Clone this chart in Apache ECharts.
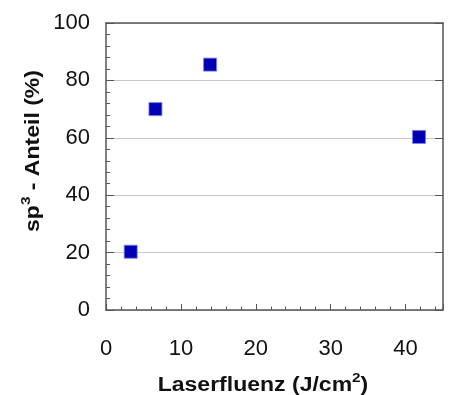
<!DOCTYPE html>
<html><head><meta charset="utf-8">
<script src="https://cdn.jsdelivr.net/npm/echarts@6/dist/echarts.min.js"></script>
<style>html,body{margin:0;padding:0;background:#fff}#c{width:452px;height:395px}</style>
</head><body><div id="c"></div>
<script>
const fluence = [3.3, 6.6, 13.9, 41.8];
const sp3 = [20.3, 70.0, 85.5, 60.3];
const xTicks = [0, 10, 20, 30, 40];
const yTicks = [0, 20, 40, 60, 80, 100];
const xTitle = ['Laserfluenz (J/cm', '2', ')'];
const yTitle = ['sp', '3', ' - Anteil (%)'];

const chart = echarts.init(document.getElementById('c'));
const font = 'Liberation Sans, Arial, sans-serif';
const axisCol = '#555';
const titleRich = {
  b: {fontSize: 19.5, fontWeight: 'bold', fill: '#111', color: '#111', fontFamily: font, lineHeight: 24, verticalAlign: 'bottom'},
  s: {fontSize: 13, fontWeight: 'bold', fill: '#111', color: '#111', fontFamily: font, lineHeight: 24, verticalAlign: 'top', padding: [0, 0, 9, 0]}
};
const richText = t => '{b|' + t[0] + '}{s|' + t[1] + '}{b|' + t[2] + '}';
chart.setOption({
  animation: false,
  grid: {left: 106, top: 23, right: 9, bottom: 85},
  xAxis: [{
    type: 'value', min: xTicks[0], max: 45, interval: 10,
    axisLine: {show: true, lineStyle: {color: axisCol, width: 1.5}},
    axisTick: {show: true, inside: true, length: 6, lineStyle: {color: axisCol}},
    minorTick: {show: true, splitNumber: 5, length: 3.5, lineStyle: {color: axisCol}},
    splitLine: {show: false},
    axisLabel: {margin: 28, fontSize: 22, color: '#111', fontFamily: font,
      formatter: v => xTicks.includes(v) ? String(v) : ''}
  }, {
    type: 'value', position: 'top', min: 0, max: 45,
    axisLine: {show: true, onZero: false, lineStyle: {color: axisCol, width: 1.5}},
    axisTick: {show: false}, axisLabel: {show: false}, splitLine: {show: false}
  }],
  yAxis: [{
    type: 'value', min: yTicks[0], max: 100, interval: 20,
    axisLine: {show: true, lineStyle: {color: axisCol, width: 1.5}},
    axisTick: {show: true, inside: true, length: 8, lineStyle: {color: axisCol}},
    minorTick: {show: true, splitNumber: 5, length: 4, lineStyle: {color: axisCol}},
    splitLine: {show: true, lineStyle: {color: '#c8c8c8', width: 1}},
    axisLabel: {margin: 16, fontSize: 22, color: '#111', fontFamily: font}
  }, {
    type: 'value', position: 'right', min: 0, max: 100, interval: 20,
    axisLine: {show: true, onZero: false, lineStyle: {color: axisCol, width: 1.5}},
    axisTick: {show: true, inside: true, length: 8, lineStyle: {color: axisCol}},
    axisLabel: {show: false}, splitLine: {show: false}
  }],
  graphic: [{
    type: 'text', x: 263, y: 384, scaleX: 1.18,
    style: {text: richText(xTitle), align: 'center', verticalAlign: 'middle', rich: titleRich}
  }, {
    type: 'text', x: 32, y: 151, rotation: Math.PI / 2, scaleX: 1.18,
    style: {text: richText(yTitle), align: 'center', verticalAlign: 'middle', rich: titleRich}
  }],
  series: [{
    type: 'scatter', xAxisIndex: 0, yAxisIndex: 0,
    symbol: 'rect', symbolSize: 13,
    itemStyle: {color: '#0000b0', borderColor: '#7a7aff', borderWidth: 0.8, opacity: 1},
    data: fluence.map((x, i) => [x, sp3[i]])
  }]
});
</script></body></html>
